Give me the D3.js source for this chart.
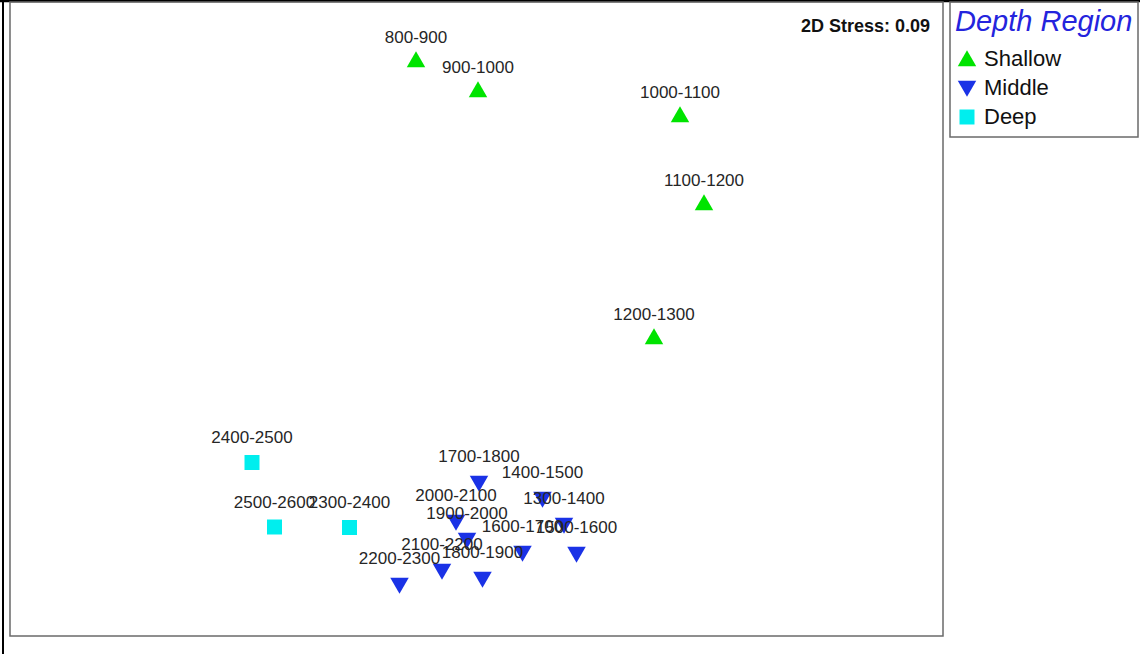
<!DOCTYPE html>
<html>
<head>
<meta charset="utf-8">
<script src="https://cdn.jsdelivr.net/npm/d3@7"></script>
<style>
  html, body { margin: 0; padding: 0; background: #fff; }
  svg { display: block; }
  text { font-family: "Liberation Sans", Arial, sans-serif; }
</style>
</head>
<body>
<svg id="chart" width="1140" height="654"></svg>
<script>
// Sample depth intervals (m) and their 2D MDS ordination coordinates
const samples = [
  "800-900", "900-1000", "1000-1100", "1100-1200", "1200-1300",
  "1300-1400", "1400-1500", "1500-1600", "1600-1700", "1700-1800",
  "1800-1900", "1900-2000", "2000-2100", "2100-2200", "2200-2300",
  "2300-2400", "2400-2500", "2500-2600"
];
const mds1 = [
  -0.30, 0.01, 1.02, 1.14, 0.89,
  0.44, 0.3325, 0.5025, 0.2325, 0.015,
  0.0325, -0.045, -0.10, -0.17, -0.3825,
  -0.6325, -1.12, -1.0075
];
const mds2 = [
  1.285, 1.135, 1.01, 0.57, -0.10,
  -1.02, -0.89, -1.165, -1.16, -0.81,
  -1.29, -1.095, -1.005, -1.25, -1.32,
  -1.0425, -0.7175, -1.04
];
const region = [
  "Shallow", "Shallow", "Shallow", "Shallow", "Shallow",
  "Middle", "Middle", "Middle", "Middle", "Middle",
  "Middle", "Middle", "Middle", "Middle", "Middle",
  "Deep", "Deep", "Deep"
];
const regionNames = ["Shallow", "Middle", "Deep"];
const regionColors = ["#00e400", "#1a32e6", "#00eeee"];
const stress = 0.09;

const svg = d3.select("#chart");

const plot = { left: 10, top: 2, right: 943, bottom: 636 };

const x = d3.scaleLinear().domain([-2.33, 2.335]).range([plot.left, plot.right]);
const y = d3.scaleLinear().domain([-1.585, 1.585]).range([plot.bottom, plot.top]);

const color = d3.scaleOrdinal().domain(regionNames).range(regionColors);

// marker shapes: up triangle, down triangle, square
const symbolFor = {
  Shallow: { type: d3.symbolTriangle, size: 148, rotate: 0 },
  Middle:  { type: d3.symbolTriangle, size: 148, rotate: 180 },
  Deep:    { type: d3.symbolSquare,   size: 225, rotate: 0 }
};
const symPath = r => d3.symbol().type(symbolFor[r].type).size(symbolFor[r].size)();

// outer frame lines
svg.append("line").attr("x1", 0).attr("x2", 1140).attr("y1", 1).attr("y2", 1)
  .attr("stroke", "#000").attr("stroke-width", 2.5);
svg.append("line").attr("x1", 3).attr("x2", 3).attr("y1", 0).attr("y2", 654)
  .attr("stroke", "#000").attr("stroke-width", 2);

// plot box
svg.append("rect")
  .attr("x", plot.left).attr("y", plot.top)
  .attr("width", plot.right - plot.left).attr("height", plot.bottom - plot.top)
  .attr("fill", "none").attr("stroke", "#6a6a6a").attr("stroke-width", 1.5);

const data = samples.map((s, i) => ({ label: s, x: mds1[i], y: mds2[i], region: region[i] }));

// markers
svg.append("g").selectAll("path")
  .data(data)
  .join("path")
  .attr("d", d => symPath(d.region))
  .attr("transform", d => `translate(${x(d.x)},${y(d.y)}) rotate(${symbolFor[d.region].rotate})`)
  .attr("fill", d => color(d.region));

// sample labels
svg.append("g").selectAll("text")
  .data(data)
  .join("text")
  .attr("x", d => x(d.x))
  .attr("y", d => y(d.y) - 19.5)
  .attr("text-anchor", "middle")
  .attr("font-size", 17)
  .attr("fill", "#262626")
  .text(d => d.label);

// stress annotation
svg.append("text")
  .attr("x", 930).attr("y", 32)
  .attr("text-anchor", "end")
  .attr("font-size", 18).attr("font-weight", "bold")
  .attr("fill", "#111")
  .text(`2D Stress: ${stress.toFixed(2)}`);

// legend
const lg = svg.append("g");
lg.append("rect")
  .attr("x", 950).attr("y", 2).attr("width", 188).attr("height", 135)
  .attr("fill", "none").attr("stroke", "#6a6a6a").attr("stroke-width", 1.5);
lg.append("text")
  .attr("x", 955).attr("y", 31)
  .attr("font-size", 29).attr("font-style", "italic")
  .attr("fill", "#2424dd")
  .text("Depth Region");

const legendY = d3.scalePoint().domain(regionNames).range([59, 117]);
const items = lg.selectAll("g.item").data(regionNames).join("g")
  .attr("class", "item")
  .attr("transform", d => `translate(0,${legendY(d)})`);
items.append("path")
  .attr("d", d => symPath(d))
  .attr("transform", d => `translate(967,${d === "Deep" ? 0 : (d === "Shallow" ? 2 : -2)}) rotate(${symbolFor[d].rotate})`)
  .attr("fill", d => color(d));
items.append("text")
  .attr("x", 984).attr("y", 7)
  .attr("font-size", 22)
  .attr("fill", "#111")
  .text(d => d);
</script>
</body>
</html>
